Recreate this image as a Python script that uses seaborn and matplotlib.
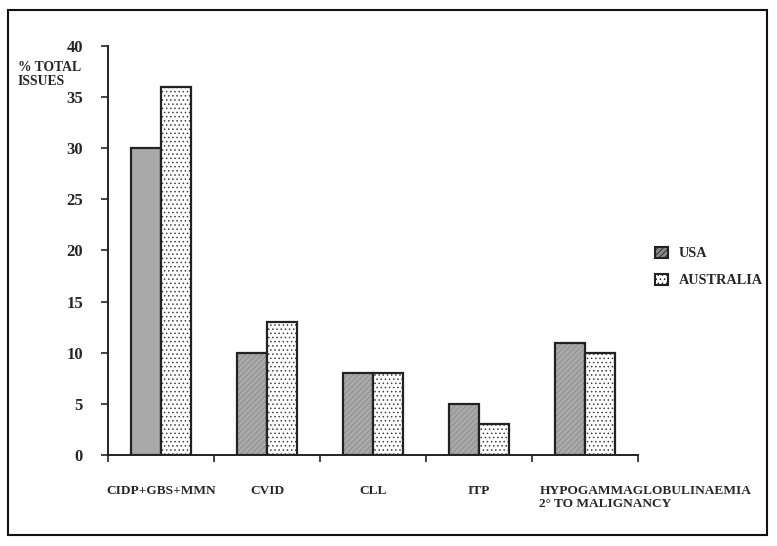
import matplotlib
matplotlib.use("Agg")
import matplotlib.pyplot as plt
import matplotlib.patches as mpatches
import seaborn as sns
import pandas as pd

categories = ["CIDP+GBS+MMN", "CVID", "CLL", "ITP", "HYPOGAMMAGLOBULINAEMIA\n2° TO MALIGNANCY"]
usa = [30, 10, 8, 5, 11]
australia = [36, 13, 8, 3, 10]
series = ["USA", "AUSTRALIA"]
yticks = [0, 5, 10, 15, 20, 25, 30, 35, 40]

df = pd.DataFrame({
    "cat": categories * 2,
    "val": usa + australia,
    "country": [series[0]] * len(categories) + [series[1]] * len(categories),
})

sns.set_style("white")
plt.rcParams["font.family"] = ["Liberation Serif", "DejaVu Serif"]
plt.rcParams["font.weight"] = "bold"
plt.rcParams["hatch.linewidth"] = 0.6

fig = plt.figure(figsize=(7.77, 5.46), dpi=100)
ax = fig.add_axes([108 / 777, 1 - 455 / 546, 530 / 777, 409 / 546])

sns.barplot(data=df, x="cat", y="val", hue="country", order=categories,
            hue_order=series, palette=["#a9a9a9", "#ffffff"], saturation=1,
            width=0.57, edgecolor="#222222", linewidth=1.6, legend=False, ax=ax)

usa_bars = ax.containers[0]
aus_bars = ax.containers[1]
for i, p in enumerate(usa_bars):
    if i > 0:
        p.set_hatch("//////")
        p._hatch_color = (0.55, 0.55, 0.55, 1)
for p in aus_bars:
    p.set_hatch("....")
    p._hatch_color = (0.25, 0.25, 0.25, 1)

ax.set_xlim(-0.5, len(categories) - 0.5)
ax.set_ylim(0, 40)
ax.set_yticks(yticks)
ax.set_yticklabels([str(v) for v in yticks], fontsize=12, fontweight="bold")
ax.set_xticks([i - 0.5 for i in range(len(categories) + 1)])
ax.set_xticklabels([])
ax.tick_params(axis="y", direction="out", length=5, width=1.2, pad=13, left=True)
ax.tick_params(axis="x", direction="out", length=5, width=1.2, bottom=True)
ax.set_xlabel("")
ax.set_ylabel("")
for s in ["top", "right"]:
    ax.spines[s].set_visible(False)
for s in ["left", "bottom"]:
    ax.spines[s].set_linewidth(1.4)
    ax.spines[s].set_color("#222222")

# category labels
for i, c in enumerate(categories):
    if "\n" in c:
        ax.text(i - 0.43, -2.9, c, ha="left", va="top", fontsize=9.6,
                fontweight="bold", linespacing=1.15)
    else:
        ax.text(i, -2.9, c, ha="center", va="top", fontsize=9.6, fontweight="bold")

fig.text(18 / 777, 1 - 61 / 546, "% TOTAL\nISSUES", ha="left", va="top",
         fontsize=9.8, fontweight="bold", linespacing=1.1)

handles = [
    mpatches.Patch(facecolor="#8a8a8a", edgecolor="#222222", hatch="//////", linewidth=1.5),
    mpatches.Patch(facecolor="#ffffff", edgecolor="#222222", hatch="....", linewidth=1.5),
]
leg = fig.legend(handles, series, loc="upper left",
                 bbox_to_anchor=(642 / 777, 1 - 234 / 546), frameon=False,
                 handlelength=0.95, handleheight=0.8,
                 labelspacing=0.95, handletextpad=0.7, prop={"weight": "bold", "size": 10.3})

fig.patches.append(mpatches.Rectangle((8 / 777, 1 - 535 / 546), 759 / 777, 525 / 546,
                                      transform=fig.transFigure, fill=False,
                                      edgecolor="#111111", linewidth=1.5))

fig.savefig("out.png", dpi=100)
